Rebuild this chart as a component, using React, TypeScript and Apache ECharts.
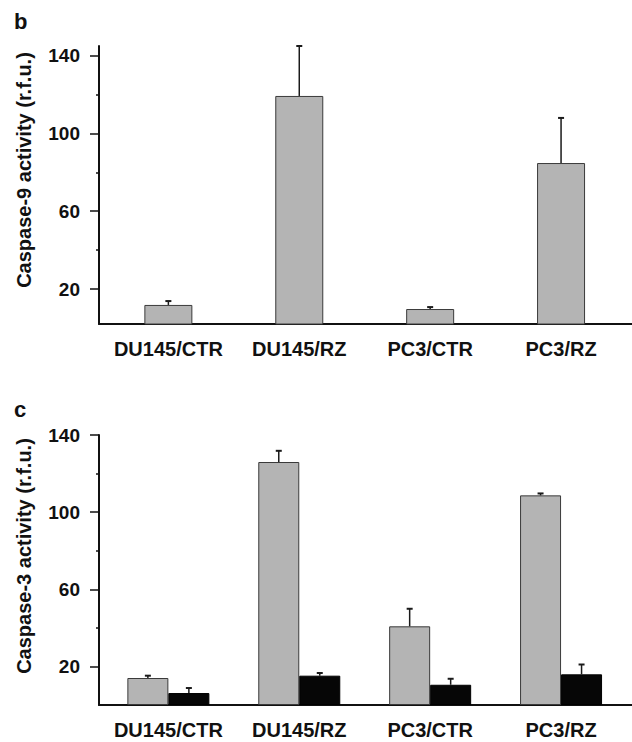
import React, { useEffect, useRef } from "react";
import * as echarts from "echarts";

const categories = ["DU145/CTR", "DU145/RZ", "PC3/CTR", "PC3/RZ"];
const casp9Mean = [11.8, 119.3, 9.7, 84.8];
const casp9Err = [2.0, 25.7, 1.0, 23.2];
const casp3Gray = [14.0, 126.0, 40.8, 108.7];
const casp3GrayErr = [1.2, 5.8, 9.1, 1.0];
const casp3Black = [6.2, 15.2, 10.5, 15.9];
const casp3BlackErr = [2.6, 1.4, 3.1, 5.1];
const yTicks = [20, 60, 100, 140];
const yMinorTicks = [40, 80, 120];
const catPositions = [0, 1, 2, 3];

const FONT = "'Liberation Sans', Arial, sans-serif";

function errorSeries(xi: number, yi: number, means: number[], errs: number[], offset: number) {
  return {
    type: "custom",
    xAxisIndex: xi,
    yAxisIndex: yi,
    z: 5,
    silent: true,
    data: means.map((m, i) => [catPositions[i], m, errs[i]]),
    renderItem: (params: any, api: any) => {
      const x = api.value(0);
      const m = api.value(1);
      const e = api.value(2);
      const p0 = api.coord([x, m]);
      const p1 = api.coord([x, m + e]);
      const cx = p0[0] + offset;
      return {
        type: "group",
        children: [
          {
            type: "line",
            shape: { x1: cx, y1: p0[1], x2: cx, y2: p1[1] },
            style: { stroke: "#1a1a1a", lineWidth: 1.5 },
          },
          {
            type: "line",
            shape: { x1: cx - 3, y1: p1[1], x2: cx + 3, y2: p1[1] },
            style: { stroke: "#1a1a1a", lineWidth: 2 },
          },
        ],
      };
    },
  };
}

function xAxisDef(gridIndex: number) {
  return {
    type: "value",
    gridIndex,
    min: -0.53,
    max: 3.542,
    axisLine: { show: true, onZero: false, lineStyle: { color: "#111", width: 2 } },
    axisTick: { show: false },
    splitLine: { show: false },
    axisLabel: {
      show: true,
      customValues: catPositions,
      formatter: (v: number) => categories[Math.round(v)] ?? "",
      margin: 15,
      color: "#111",
      fontSize: 20,
      fontWeight: "bold",
      fontFamily: FONT,
    },
  };
}

function yAxisDefs(gridIndex: number, min: number, max: number) {
  return [
    {
      type: "value",
      gridIndex,
      min,
      max,
      position: "left",
      axisLine: { show: true, onZero: false, lineStyle: { color: "#111", width: 2 } },
      axisTick: { show: true, customValues: yTicks, length: 9, lineStyle: { color: "#111", width: 1.5 } },
      splitLine: { show: false },
      axisLabel: {
        show: true,
        customValues: yTicks,
        margin: 19,
        color: "#111",
        fontSize: 19,
        fontWeight: "bold",
        fontFamily: FONT,
      },
    },
    {
      type: "value",
      gridIndex,
      min,
      max,
      position: "left",
      axisLine: { show: false, onZero: false },
      axisTick: { show: true, customValues: yMinorTicks, length: 3, lineStyle: { color: "#111", width: 1.5 } },
      splitLine: { show: false },
      axisLabel: { show: false },
    },
  ];
}

export default function App() {
  const ref = useRef<HTMLDivElement>(null);
  useEffect(() => {
    if (!ref.current) return;
    const chart = echarts.init(ref.current, undefined, { renderer: "svg" });
    const gray = "#b4b4b4";
    const option: any = {
      animation: false,
      backgroundColor: "#ffffff",
      textStyle: { fontSize: 19, fontWeight: "bold", fontFamily: FONT, color: "#111" },
      grid: [
        { left: 99, top: 46, width: 533, height: 278 },
        { left: 99, top: 435, width: 533, height: 270 },
      ],
      xAxis: [xAxisDef(0), xAxisDef(1)],
      yAxis: [...yAxisDefs(0, 2, 145), ...yAxisDefs(1, 0, 140)],
      graphic: [
        {
          type: "text",
          left: 14,
          top: 10,
          style: { text: "b", font: `bold 22px ${FONT}`, fill: "#111" },
        },
        {
          type: "text",
          left: 14,
          top: 398,
          style: { text: "c", font: `bold 22px ${FONT}`, fill: "#111" },
        },
        {
          type: "text",
          x: 24,
          y: 170,
          rotation: Math.PI / 2,
          style: {
            text: "Caspase-9 activity (r.f.u.)",
            font: `bold 20px ${FONT}`,
            fill: "#111",
            align: "center",
            verticalAlign: "middle",
          },
        },
        {
          type: "text",
          x: 24,
          y: 556,
          rotation: Math.PI / 2,
          style: {
            text: "Caspase-3 activity (r.f.u.)",
            font: `bold 20px ${FONT}`,
            fill: "#111",
            align: "center",
            verticalAlign: "middle",
          },
        },
      ],
      series: [
        {
          type: "bar",
          name: "Caspase-9",
          xAxisIndex: 0,
          yAxisIndex: 0,
          barWidth: 48,
          data: casp9Mean.map((v, i) => [catPositions[i], v]),
          itemStyle: { color: gray, borderColor: "#3a3a3a", borderWidth: 1 },
        },
        errorSeries(0, 0, casp9Mean, casp9Err, 0),
        {
          type: "bar",
          name: "Caspase-3 gray",
          xAxisIndex: 1,
          yAxisIndex: 2,
          barWidth: 41,
          barGap: "0%",
          data: casp3Gray.map((v, i) => [catPositions[i], v]),
          itemStyle: { color: gray, borderColor: "#3a3a3a", borderWidth: 1 },
        },
        {
          type: "bar",
          name: "Caspase-3 black",
          xAxisIndex: 1,
          yAxisIndex: 2,
          barWidth: 41,
          barGap: "0%",
          data: casp3Black.map((v, i) => [catPositions[i], v]),
          itemStyle: { color: "#060606", borderColor: "#000", borderWidth: 1 },
        },
        errorSeries(1, 2, casp3Gray, casp3GrayErr, -20.5),
        errorSeries(1, 2, casp3Black, casp3BlackErr, 20.5),
      ],
    };
    chart.setOption(option);
    return () => chart.dispose();
  }, []);
  return (
    <div
      ref={ref}
      style={{ position: "absolute", left: 0, top: 0, width: 632, height: 742, background: "#fff" }}
    />
  );
}
